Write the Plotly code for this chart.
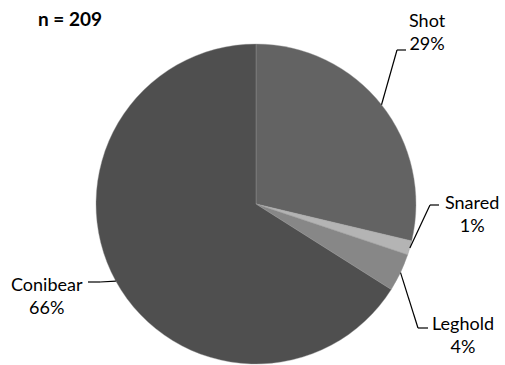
import math
import plotly.graph_objects as go

categories = ["Shot", "Snared", "Leghold", "Conibear"]
counts = [60, 3, 8, 138]
pct_labels = ["29%", "1%", "4%", "66%"]
colors = ["#636363", "#b4b4b4", "#878787", "#4f4f4f"]
n_label = "n = 209"

W, H = 505, 365
cx, cy, R = 256, 204, 160

def px(x):
    return x / W

def py(y):
    return 1 - y / H

fig = go.Figure(go.Pie(
    labels=categories, values=counts, sort=False, direction="clockwise",
    rotation=0, textinfo="none", hoverinfo="label+percent",
    marker=dict(colors=colors, line=dict(color="#9a9a9a", width=0.4)),
    domain=dict(x=[px(cx - R), px(cx + R)], y=[py(cy + R), py(cy - R)]),
    showlegend=False,
))

# label positions (text centre) and leader-line elbows, in pixels
label_pos = {"Shot": (427, 32), "Snared": (472, 213), "Leghold": (463, 334), "Conibear": (47, 295)}
elbows = {"Shot": [(397, 50), (406, 50)], "Snared": [(430, 205), (439, 205)],
          "Leghold": [(418, 328), (428, 328)], "Conibear": [(100, 282), (88, 282)]}

total = sum(counts)
cum = 0
shapes = []
annotations = []
for cat, v, p in zip(categories, counts, pct_labels):
    mid = (cum + v / 2) / total * 2 * math.pi
    cum += v
    ax = cx + R * math.sin(mid)
    ay = cy - R * math.cos(mid)
    pts = [(ax, ay)] + elbows[cat]
    for (x0, y0), (x1, y1) in zip(pts[:-1], pts[1:]):
        shapes.append(dict(type="line", xref="paper", yref="paper",
                           x0=px(x0), y0=py(y0), x1=px(x1), y1=py(y1),
                           line=dict(color="black", width=1.2)))
    lx, ly = label_pos[cat]
    annotations.append(dict(text=f"{cat}<br>{p}", x=px(lx), y=py(ly), xref="paper", yref="paper",
                            xanchor="center", yanchor="middle", showarrow=False, align="center",
                            font=dict(family="Lato, sans-serif", size=18, color="black")))

annotations.append(dict(text=f"<b>{n_label}</b>", x=px(70), y=py(18), xref="paper", yref="paper",
                        xanchor="center", yanchor="middle", showarrow=False,
                        font=dict(family="Lato, sans-serif", size=19, color="black")))

fig.update_layout(width=W, height=H, margin=dict(l=0, r=0, t=0, b=0),
                  paper_bgcolor="white", plot_bgcolor="white",
                  shapes=shapes, annotations=annotations)

fig.write_html("out.html", config={"displayModeBar": False},
               post_script="document.body.style.margin='0';")
